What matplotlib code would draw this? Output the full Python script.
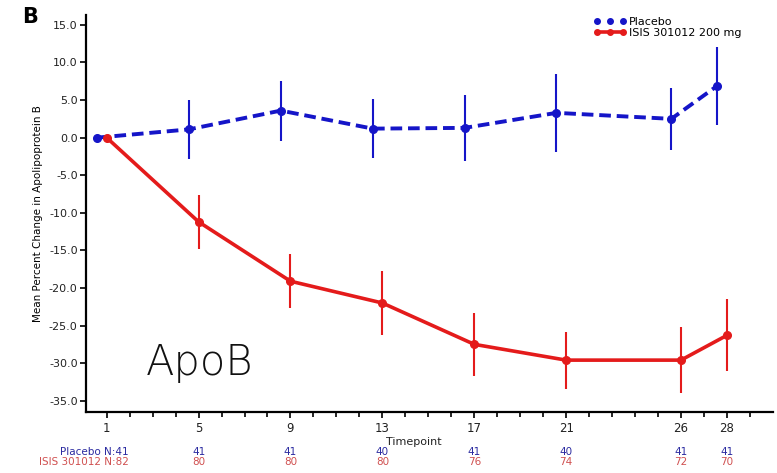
import matplotlib.pyplot as plt
from matplotlib.lines import Line2D
import numpy as np

# ---- data ----
timepoints = [1, 5, 9, 13, 17, 21, 26, 28]
placebo_mean = [0.0, 1.1, 3.6, 1.2, 1.3, 3.3, 2.5, 6.9]
placebo_err = [0.0, 3.9, 4.0, 3.9, 4.4, 5.2, 4.1, 5.2]
isis_mean = [0.0, -11.2, -19.1, -22.0, -27.5, -29.6, -29.6, -26.3]
isis_err = [0.0, 3.6, 3.6, 4.2, 4.2, 3.8, 4.4, 4.8]
placebo_n = ['41', '41', '41', '40', '41', '40', '41', '41']
isis_n = ['82', '80', '80', '80', '76', '74', '72', '70']
yticks = [15.0, 10.0, 5.0, 0.0, -5.0, -10.0, -15.0, -20.0, -25.0, -30.0, -35.0]

blue = '#1515c8'
red = '#e41b1b'

fig = plt.figure(figsize=(7.77, 4.73), dpi=100)
ax = fig.add_axes([0.1107, 0.129, 0.884, 0.839])

t = np.array(timepoints, dtype=float)
# placebo drawn slightly left of the nominal timepoint
ax.errorbar(t - 0.42, placebo_mean, yerr=placebo_err, color=blue, linestyle='--',
            linewidth=2.8, dashes=(3, 1.5), marker='o', markersize=5.5,
            elinewidth=1.5, capsize=0, zorder=3)
ax.errorbar(t, isis_mean, yerr=isis_err, color=red, linestyle='-',
            linewidth=2.6, marker='o', markersize=5.5,
            elinewidth=1.5, capsize=0, zorder=4)

ax.set_xlim(0.1, 30)
ax.set_ylim(-36.5, 16.3)
ax.set_yticks(yticks)
ax.set_yticklabels([f'{v:.1f}' for v in yticks], fontsize=8, color='#222222')
ax.set_xticks(timepoints)
ax.set_xticklabels([str(v) for v in timepoints], fontsize=8.5, color='#222222')
ax.set_xticks(np.arange(1, 30), minor=True)
ax.tick_params(axis='both', which='major', direction='out', length=4, width=1.2)
ax.tick_params(axis='x', which='minor', direction='out', length=3.5, width=1.2)
ax.tick_params(axis='y', pad=2)
for s in ['top', 'right']:
    ax.spines[s].set_visible(False)
for s in ['left', 'bottom']:
    ax.spines[s].set_linewidth(1.6)

ax.set_ylabel('Mean Percent Change in Apolipoprotein B', fontsize=7.5, labelpad=4)

fig.text(0.028, 0.965, 'B', fontsize=15, fontweight='bold', va='center')
fig.text(0.532, 0.066, 'Timepoint', fontsize=8, ha='center', va='center', color='#222222')
ax.text(2.7, -29.9, 'ApoB', fontsize=30, fontweight='light', color='#111111',
        va='center', ha='left')

# N at risk rows
trans = ax.get_xaxis_transform()
ax.text(1.95, -0.1, 'Placebo N:' + placebo_n[0], transform=trans, ha='right',
        va='center', fontsize=7.5, color='#2a2aa0', clip_on=False)
ax.text(1.95, -0.127, 'ISIS 301012 N:' + isis_n[0], transform=trans, ha='right',
        va='center', fontsize=7.5, color='#d05050', clip_on=False)
for x, pn, iname in zip(timepoints[1:], placebo_n[1:], isis_n[1:]):
    ax.text(x, -0.1, pn, transform=trans, ha='center', va='center',
            fontsize=7.5, color='#2a2aa0', clip_on=False)
    ax.text(x, -0.127, iname, transform=trans, ha='center', va='center',
            fontsize=7.5, color='#d05050', clip_on=False)

handles = [
    Line2D([], [], color=blue, linestyle='none', marker='o', markersize=4),
    Line2D([], [], color=red, linestyle='-', linewidth=2.6, marker='o', markersize=4),
]
leg = ax.legend(handles, ['Placebo', 'ISIS 301012 200 mg'], numpoints=3,
                loc='upper left', bbox_to_anchor=(0.73, 1.012), frameon=False,
                fontsize=8, handlelength=2.9, handletextpad=0.2,
                labelspacing=0.05, borderaxespad=0.2)

fig.savefig('out.png', dpi=100)
